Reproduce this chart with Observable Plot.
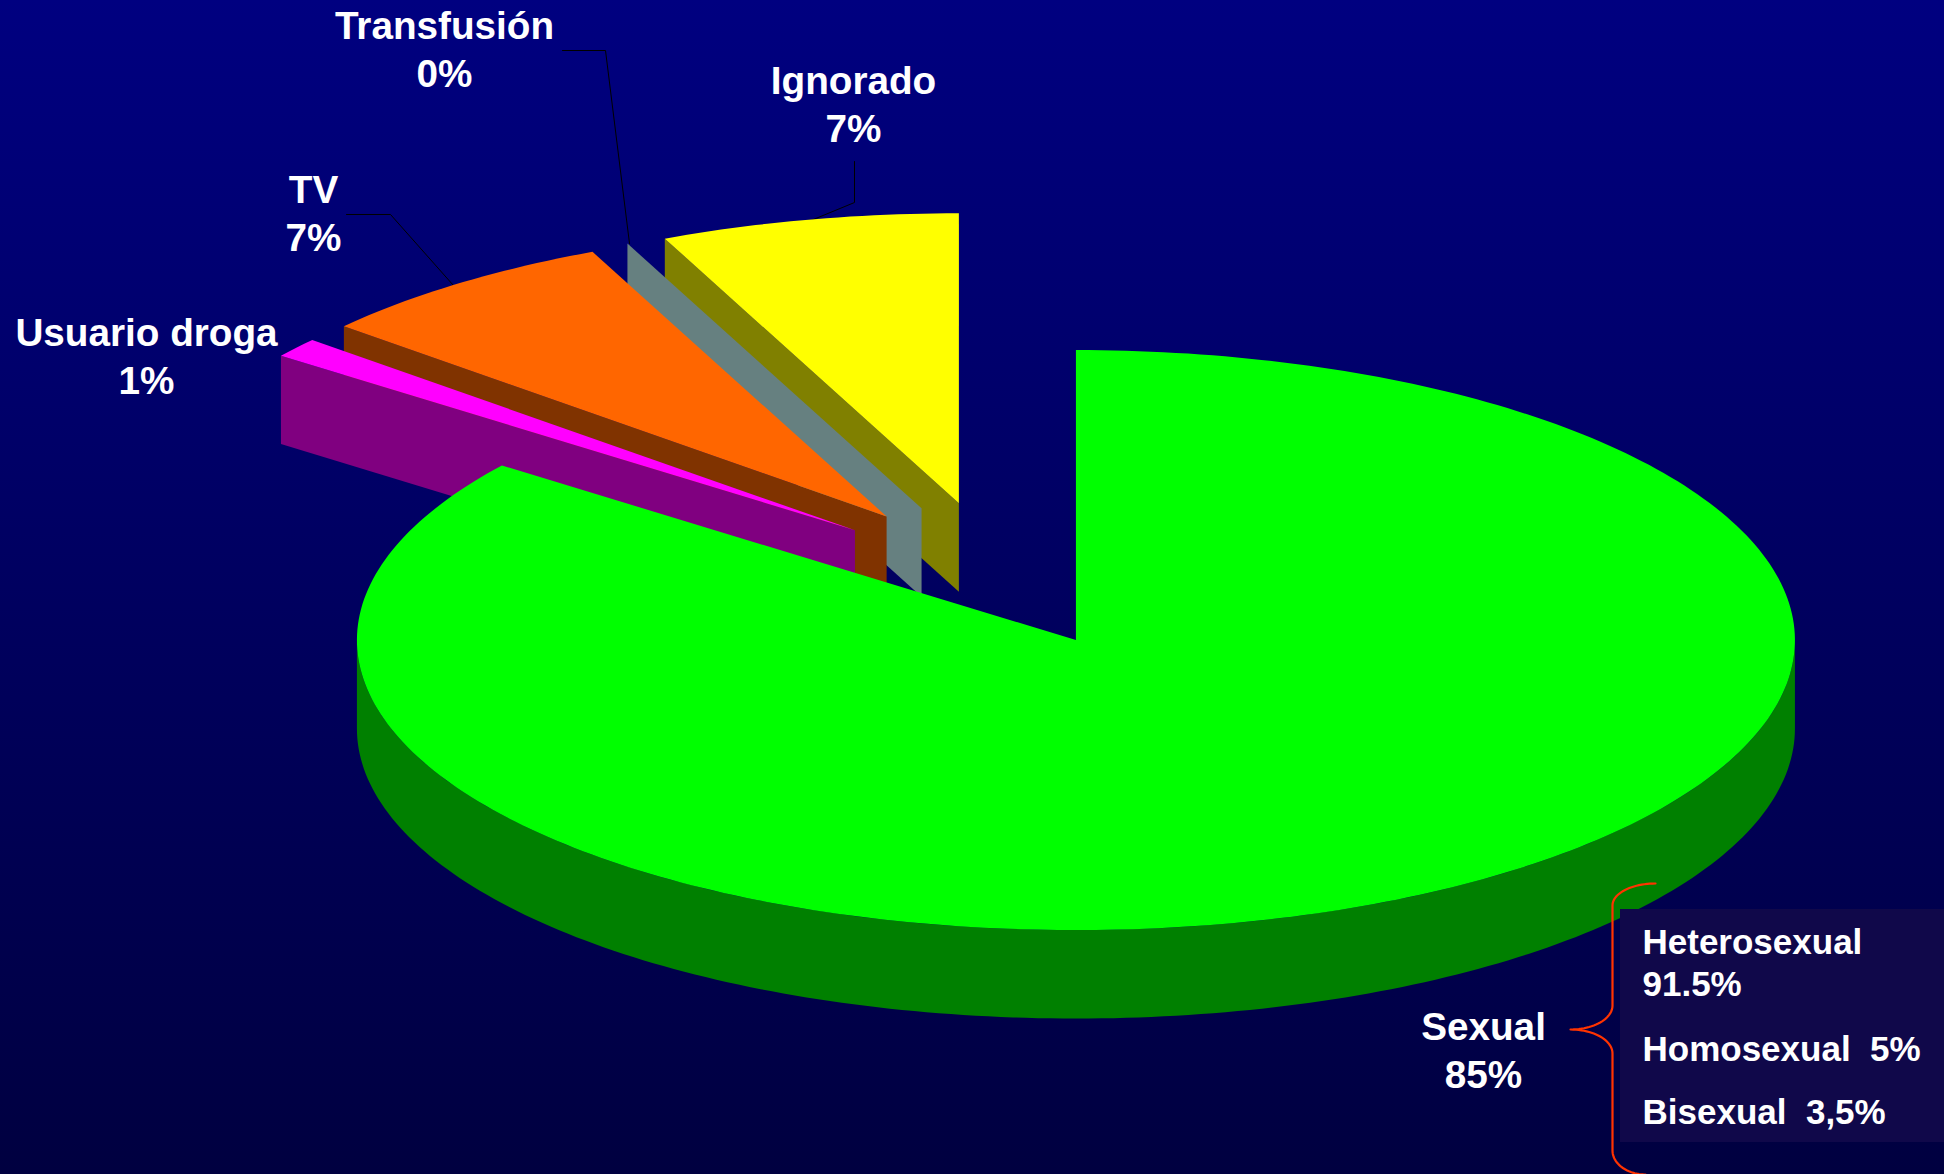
<!DOCTYPE html>
<html lang="es">
<head>
<meta charset="utf-8">
<script src="https://cdn.jsdelivr.net/npm/d3@7"></script>
<script src="https://cdn.jsdelivr.net/npm/@observablehq/plot@0.6"></script>
<style>
html,body{margin:0;padding:0;width:1944px;height:1174px;overflow:hidden;background:linear-gradient(to bottom,#000080 0%,#000040 100%);}
svg{display:block;}
</style>
</head>
<body>
<div id="chart"></div>
<script>
// Data (clockwise from 12 o'clock)
const categories = ["Sexual", "Usuario droga", "TV", "Transfusión", "Ignorado"];
const values = [85.2, 1.1, 6.9, 0, 6.7];
const breakdownLabels = ["Heterosexual\n91.5%", "Homosexual  5%", "Bisexual  3,5%"];

// Styles
const topColors = ["#00ff00", "#ff00ff", "#ff6600", "#669999", "#ffff00"];
const wallColors = ["#008000", "#800080", "#803300", "#668080", "#808000"];
const explode = [0.243, 0.256, 0.26, 0.26, 0.26];

// Layout: the projected pie is an ellipse in unit coordinates
const W = 1944, H = 1174, CX = 997.5, CY = 576.5, RX = 719, RY = 290, DEPTH = 0.305;
const U = (px) => (px - CX) / RX;
const V = (py) => (CY - py) / RY;
const P = ([x, y]) => ({x: U(x), y: V(y)});
const rad = (d) => (d * Math.PI) / 180;
const onRim = (c, deg, dz = 0) => ({x: c.x + Math.sin(rad(deg)), y: c.y + Math.cos(rad(deg)) - dz});

// Slice geometry from the values
const total = d3.sum(values);
let acc = 0;
const slices = categories.map((name, i) => {
  const a0 = (acc / total) * 360;
  acc += values[i];
  const a1 = (acc / total) * 360;
  const mid = (a0 + a1) / 2;
  const c = {x: Math.sin(rad(mid)) * explode[i], y: Math.cos(rad(mid)) * explode[i]};
  return {name, a0, a1, c, i};
});

function arc(c, a0, a1, dz = 0) {
  const n = Math.max(1, Math.ceil(Math.abs(a1 - a0) / 1));
  return d3.range(n + 1).map((k) => onRim(c, a0 + ((a1 - a0) * k) / n, dz));
}
function topFace(s) {
  return [{x: s.c.x, y: s.c.y}, ...arc(s.c, s.a0, s.a1)];
}
function radialWall(s) {
  // the radial side that faces the viewer is the slice's counter-clockwise edge
  const o = onRim(s.c, s.a0);
  return [
    {x: s.c.x, y: s.c.y}, o,
    {x: o.x, y: o.y - DEPTH},
    {x: s.c.x, y: s.c.y - DEPTH}
  ];
}
function rimWall(s) {
  const a = Math.max(s.a0, 90), b = Math.min(s.a1, 270);
  return [...arc(s.c, a, b), ...arc(s.c, b, a, DEPTH)];
}

const poly = (pts, fill) => Plot.line(pts, {x: "x", y: "y", fill, stroke: "none", curve: "linear"});

// Annotations (leaders are drawn first so their ends tuck under the slices)
const leaders = [
  [[562, 50], [605, 50], [629, 243]],
  [[854, 161], [854, 202], [808, 221]],
  [[346, 214], [390, 214], [453, 285]]
].map((l) => l.map(P));

// Painter's order: far slices first, the big slice last
const pieMarks = [];
[4, 3, 2, 1].forEach((i) => {
  const s = slices[i];
  pieMarks.push(poly(radialWall(s), wallColors[i]));
  if (values[i] > 0) pieMarks.push(poly(topFace(s), topColors[i]));
});
pieMarks.push(poly(rimWall(slices[0]), wallColors[0]));
pieMarks.push(poly(topFace(slices[0]), topColors[0]));

const labelPositions = [[1483, 1087], [146, 393], [313, 250], [444, 86], [853, 141]];
const labels = categories.map((name, i) => ({
  text: `${name}\n${Math.round(values[i])}%`,
  ...P(labelPositions[i])
}));
const breakdownPositions = [[1642, 995], [1642, 1060], [1642, 1123]];
const breakdown = breakdownLabels.map((text, i) => ({text, ...P(breakdownPositions[i])}));

function quarter(cx, cy, rx, ry, a0, a1) {
  return d3.range(0, 25).map((k) => {
    const a = rad(a0 + ((a1 - a0) * k) / 24);
    return P([cx + rx * Math.cos(a), cy + ry * Math.sin(a)]);
  });
}
const brace = [
  ...quarter(1655, 905, 43, 22, -90, -180),
  ...quarter(1570, 1005, 42, 24, 0, 90),
  ...quarter(1570, 1053, 42, 24, -90, 0),
  ...quarter(1645, 1150, 33, 24, 180, 90)
];
const panel = [{x1: U(1620), x2: U(1944), y1: V(909), y2: V(1142)}];

const chart = Plot.plot({
  width: W,
  height: H,
  margin: 0,
  style: {background: "transparent", fontFamily: "'Liberation Sans', Arial, sans-serif"},
  x: {domain: [U(0), U(W)], range: [0, W], axis: null},
  y: {domain: [V(H), V(0)], range: [H, 0], axis: null},
  marks: [
    ...leaders.map((l) => Plot.line(l, {x: "x", y: "y", stroke: "#000000", strokeWidth: 1})),
    ...pieMarks,
    Plot.rect(panel, {x1: "x1", x2: "x2", y1: "y1", y2: "y2", fill: "#10084a"}),
    Plot.line(brace, {x: "x", y: "y", stroke: "#ff3300", strokeWidth: 2.2}),
    Plot.text(labels, {x: "x", y: "y", text: "text", fill: "#ffffff", fontSize: 38.7, fontWeight: "bold",
      lineAnchor: "bottom", lineHeight: 1.22, textAnchor: "middle"}),
    Plot.text(breakdown, {x: "x", y: "y", text: "text", fill: "#ffffff", fontSize: 35, fontWeight: "bold",
      lineAnchor: "bottom", lineHeight: 1.2, textAnchor: "start"})
  ]
});
document.getElementById("chart").appendChild(chart);
</script>
</body>
</html>
